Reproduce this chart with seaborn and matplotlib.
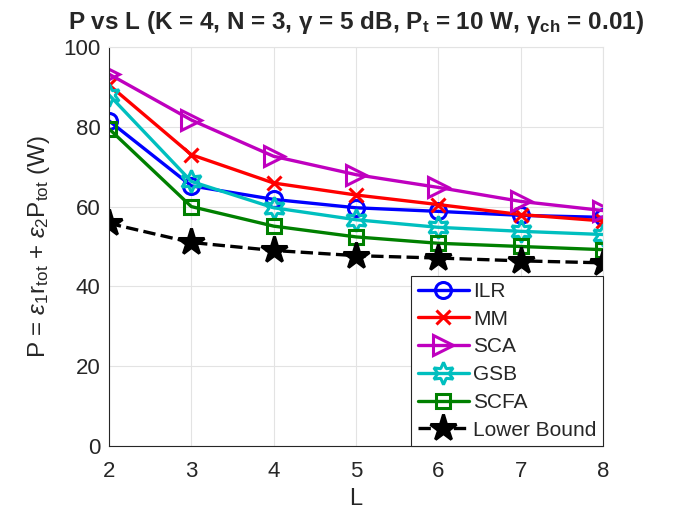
import matplotlib
matplotlib.use("Agg")
import matplotlib.pyplot as plt
import seaborn as sns

sns.set_style("whitegrid")
plt.rcParams['font.family'] = ['Liberation Sans', 'DejaVu Sans']
plt.rcParams['mathtext.fontset'] = 'custom'
plt.rcParams['mathtext.rm'] = 'Liberation Sans'
plt.rcParams['mathtext.it'] = 'Liberation Sans:italic'
plt.rcParams['mathtext.bf'] = 'Liberation Sans:bold'

L = [2, 3, 4, 5, 6, 7, 8]
ilr = [81.5, 65.2, 61.8, 59.7, 58.8, 57.8, 57.3]
mm = [90.5, 73.0, 65.9, 62.9, 60.5, 58.0, 56.4]
sca = [93.2, 81.7, 72.6, 68.0, 64.8, 61.3, 59.0]
gsb = [88.0, 66.3, 59.7, 56.7, 54.8, 53.8, 53.0]
scfa = [79.5, 60.0, 55.1, 52.4, 50.8, 50.0, 49.2]
lower_bound = [55.8, 51.0, 49.0, 47.7, 47.1, 46.4, 45.9]

series = [
    ("ILR", ilr, "#0000ff", "o", 11.5, "-"),
    ("MM", mm, "#ff0000", "x", 9.5, "-"),
    ("SCA", sca, "#bf00bf", ">", 14.5, "-"),
    ("GSB", gsb, "#00bfbf", (6, 1, 0), 16, "-"),
    ("SCFA", scfa, "#008000", "s", 10, "-"),
    ("Lower Bound", lower_bound, "black", "*", 20, "--"),
]

fig = plt.figure(figsize=(6.76, 5.15), dpi=100)
ax = fig.add_axes([0.1612, 0.134, 0.7308, 0.7748])

for name, vals, color, marker, ms, ls in series:
    filled = name == "Lower Bound"
    sns.lineplot(x=L, y=vals, ax=ax, color=color, linewidth=2.4, linestyle=ls,
                 marker=marker, markersize=ms, markeredgewidth=2.2,
                 markeredgecolor=color,
                 markerfacecolor=color if filled else "none",
                 label=name)

ax.set_xlim(2, 8)
ax.set_ylim(0, 100)
ax.set_xticks(L)
ax.set_yticks([0, 20, 40, 60, 80, 100])
ax.tick_params(labelsize=16, direction="in", length=4, colors="#262626")
ax.tick_params(axis="x", pad=11)
ax.tick_params(axis="y", pad=6)
ax.grid(True, color="#e3e3e3", linewidth=0.8)
for side in ["left", "bottom"]:
    ax.spines[side].set_color("#262626")
    ax.spines[side].set_linewidth(0.8)
for side in ["top", "right"]:
    ax.spines[side].set_color("#e3e3e3")
    ax.spines[side].set_linewidth(0.8)

ax.set_xlabel("L", fontsize=17, color="#262626", labelpad=4)
ax.set_ylabel(r"P = $\epsilon_1$r$_{\rm tot}$ + $\epsilon_2$P$_{\rm tot}$ (W)",
              fontsize=17.5, color="#262626", labelpad=8)
ax.set_title(r"P vs L (K = 4, N = 3, $\mathbf{\gamma}$ = 5 dB, P$_\mathbf{t}$ = 10 W, "
             r"$\mathbf{\gamma}_\mathbf{ch}$ = 0.01)",
             fontsize=17.5, fontweight="bold", pad=13)

leg = ax.legend(loc="lower right", fontsize=15, borderaxespad=0, fancybox=False,
                framealpha=1, edgecolor="#262626", handlelength=2.45,
                handletextpad=0.22, borderpad=0.3, labelspacing=0.42)
leg.get_frame().set_linewidth(0.8)

fig.savefig("out.png", dpi=100)
